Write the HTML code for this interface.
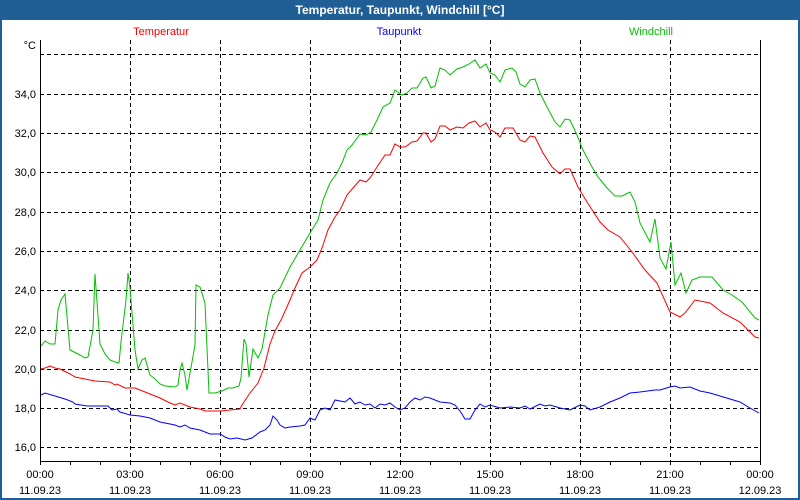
<!DOCTYPE html>
<html><head><meta charset="utf-8"><style>
html,body{margin:0;padding:0;background:#fff}
svg{display:block}
text{font-family:"Liberation Sans","DejaVu Sans",sans-serif;font-size:11px}
</style></head><body>
<svg width="800" height="500" viewBox="0 0 800 500" xmlns="http://www.w3.org/2000/svg">
<rect x="0" y="0" width="800" height="500" fill="#fff"/>
<rect x="1" y="1" width="798" height="498" fill="none" stroke="#1f5f96" stroke-width="2"/>
<rect x="0" y="0" width="800" height="20" fill="#1f5f96"/>
<text x="400" y="14" text-anchor="middle" fill="#fff" font-weight="bold" style="font-size:12px">Temperatur, Taupunkt, Windchill [°C]</text>
<text x="161" y="35" text-anchor="middle" fill="#ff0000">Temperatur</text>
<text x="399" y="35" text-anchor="middle" fill="#0000ff">Taupunkt</text>
<text x="651" y="35" text-anchor="middle" fill="#00c000">Windchill</text>
<text x="36" y="49" text-anchor="end" fill="#000">°C</text>
<g stroke="#000" stroke-width="1" stroke-dasharray="4,3" fill="none">
<path d="M40 54.5H760M40 94.5H760M40 133.5H760M40 172.5H760M40 212.5H760M40 251.5H760M40 290.5H760M40 330.5H760M40 369.5H760M40 408.5H760M40 447.5H760"/>
<path d="M130.5 40V461M220.5 40V461M310.5 40V461M400.5 40V461M490.5 40V461M580.5 40V461M670.5 40V461"/>
</g>
<g stroke="#000" stroke-width="1" fill="none">
<path d="M40.5 40V461.5H760.5V40"/>
<path d="M70.5 461V465M100.5 461V465M130.5 461V465M160.5 461V465M190.5 461V465M220.5 461V465M250.5 461V465M280.5 461V465M310.5 461V465M340.5 461V465M370.5 461V465M400.5 461V465M430.5 461V465M460.5 461V465M490.5 461V465M520.5 461V465M550.5 461V465M580.5 461V465M610.5 461V465M640.5 461V465M670.5 461V465M700.5 461V465M730.5 461V465M760.5 461V465M40.5 461V465"/>
</g>
<g fill="#000" text-anchor="end">
<text x="36" y="98">34,0</text><text x="36" y="137">32,0</text><text x="36" y="176">30,0</text>
<text x="36" y="216">28,0</text><text x="36" y="255">26,0</text><text x="36" y="294">24,0</text>
<text x="36" y="334">22,0</text><text x="36" y="373">20,0</text><text x="36" y="412">18,0</text>
<text x="36" y="451">16,0</text>
</g>
<g fill="#000" text-anchor="middle">
<text x="40" y="478">00:00</text><text x="40" y="494">11.09.23</text>
<text x="130" y="478">03:00</text><text x="130" y="494">11.09.23</text>
<text x="220" y="478">06:00</text><text x="220" y="494">11.09.23</text>
<text x="310" y="478">09:00</text><text x="310" y="494">11.09.23</text>
<text x="400" y="478">12:00</text><text x="400" y="494">11.09.23</text>
<text x="490" y="478">15:00</text><text x="490" y="494">11.09.23</text>
<text x="580" y="478">18:00</text><text x="580" y="494">11.09.23</text>
<text x="670" y="478">21:00</text><text x="670" y="494">11.09.23</text>
<text x="760" y="478">00:00</text><text x="760" y="494">12.09.23</text>
</g>
<polyline fill="none" stroke="#00c000" stroke-width="1" points="41,346 45,341 50,344 55,344 58,310 61,300 65,294 70,350 80,355 85,358 88,357 93,330 95,274 100,344 105,354 110,360 115,362 119,363 121,342 126,300 128,273 130,288 135,350 138,369 142,360 145,358 150,375 155,379 160,384 165,386 175,387 178,385 180,370 182,363 185,375 187,390 195,345 196,285 200,287 205,303 209,393 215,393 222,391 228,388 233,388 239,386 241,378 244,339 246,344 249,377 253,349 258,358 262,349 268,315 273,295 280,288 290,267 300,250 310,233 318,220 323,200 330,183 337,173 342,163 347,150 352,145 360,134 366,135 371,132 377,120 383,107 390,103 395,90 402,95 407,93 412,88 417,88 423,78 426,77 431,88 435,86 440,68 445,70 450,75 457,69 463,67 469,64 475,60 480,68 486,64 490,73 495,75 500,82 505,70 512,68 516,72 520,84 525,87 530,80 535,79 540,93 547,107 555,122 560,127 565,119 570,120 577,135 583,150 592,167 598,177 607,188 615,196 622,196 630,192 635,202 640,223 650,242 655,219 660,258 666,269 671,242 675,285 681,273 686,293 692,280 700,277 712,277 723,290 732,295 742,302 755,318 759,320"/>
<polyline fill="none" stroke="#ff0000" stroke-width="1" points="41,369 45,368 50,366 55,368 60,369 70,374 75,377 85,379 95,381 110,382 115,385 117,384 125,388 135,388 145,392 160,398 170,403 175,405 180,403 190,407 200,409 205,411 220,411 230,410 240,409 242,405 250,393 258,383 264,368 270,344 275,331 282,318 290,300 295,288 302,273 310,267 317,260 322,248 328,230 335,217 340,210 347,195 353,188 360,180 366,182 370,178 377,167 385,155 390,155 395,144 400,147 405,147 412,142 417,141 423,133 426,133 431,142 435,139 440,126 445,126 450,130 457,127 463,128 469,123 475,121 480,127 486,123 490,130 495,132 500,137 505,128 513,128 520,140 525,142 530,136 535,137 543,153 552,167 560,174 565,169 570,169 578,187 587,202 600,222 608,230 620,237 632,252 645,270 657,283 670,312 680,317 685,313 695,300 710,303 723,313 740,322 755,337 759,338"/>
<polyline fill="none" stroke="#0000ff" stroke-width="1" points="41,395 45,393 55,396 65,399 73,402 75,404 87,406 108,406 112,410 117,409 120,412 130,415 140,416 150,418 160,422 175,425 180,427 185,425 190,428 200,430 205,432 210,434 220,434 225,437 230,439 237,438 245,440 252,438 260,432 265,430 270,425 273,416 277,420 280,425 285,428 290,427 300,426 305,425 310,418 315,420 320,410 325,408 330,410 335,400 345,402 350,398 355,404 360,402 365,405 370,404 375,408 380,404 385,405 390,403 395,407 400,410 405,408 410,402 415,398 420,400 425,397 430,398 440,402 450,403 455,405 460,411 465,419 470,419 475,410 480,404 485,407 490,405 500,408 510,407 520,408 525,406 530,409 540,404 545,406 550,405 560,408 570,410 580,405 585,406 590,410 600,407 610,402 620,398 630,393 640,392 655,390 660,390 670,387 675,386 680,388 690,387 700,391 710,393 720,396 730,399 740,402 750,408 759,413"/>
</svg>
</body></html>
